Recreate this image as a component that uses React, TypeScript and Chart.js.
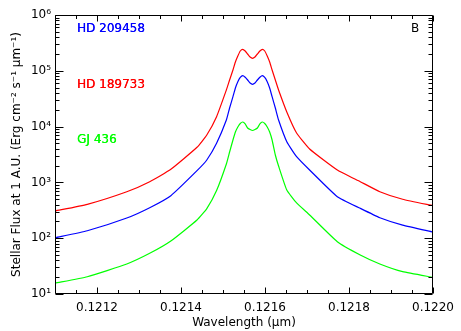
import React, { useEffect, useRef } from "react";
import { Chart, registerables } from "chart.js";

Chart.register(...registerables);

// Wavelength grid (micron)
const wavelengths = [
  0.1211, 0.1211769, 0.1212709, 0.1213255, 0.1213758, 0.1214381, 0.1214614,
  0.1214847, 0.121508, 0.1215157, 0.1215237, 0.1215295, 0.1215353, 0.1215411,
  0.121547, 0.1215528, 0.1215586, 0.1215645, 0.1215703, 0.1215761, 0.1215819,
  0.1215878, 0.1215936, 0.1215994, 0.1216053, 0.1216111, 0.1216169, 0.1216246,
  0.1216323, 0.1216519, 0.1216752, 0.1217062, 0.1217722, 0.1218268, 0.1218734,
  0.1219277, 0.122,
];

// Stellar flux at 1 AU (erg cm^-2 s^-1 um^-1)
const hd209458 = [
  102, 136, 230, 352, 578, 1622, 2520, 5020, 13130, 21540, 34360, 49200, 63800,
  75900, 81700, 76400, 68400, 60400, 57300, 60400, 68400, 76400, 81700, 75900,
  63800, 49200, 34360, 21540, 13130, 5360, 2890, 1667, 554, 343, 233, 172, 129,
];
const hd189733 = [
  307, 405, 681, 1030, 1718, 4256, 7070, 15040, 45300, 68400, 103300, 143900,
  184000, 226300, 242700, 226300, 200000, 176600, 167500, 176600, 200000, 226300,
  242700, 226300, 184000, 143900, 103300, 68400, 45300, 18290, 7680, 3970, 1667,
  1030, 681, 498, 382,
];
const gj436 = [
  15.6, 20.4, 34.5, 53.6, 89.1, 212, 340, 716, 2140, 3510, 5750, 8000, 9840,
  11380, 12090, 11170, 9440, 8870, 8510, 8870, 9440, 11170, 12090, 11380, 9840,
  8000, 5750, 3100, 1968, 731, 428, 261, 86.5, 50, 34.5, 25.1, 19.9,
];

const seriesNames = ["HD 209458", "HD 189733", "GJ 436"];
const seriesColors = ["#0000ff", "#ff0000", "#00ff00"];
const xTickLabels = [0.1212, 0.1214, 0.1216, 0.1218, 0.122];
const yDecades = [1, 2, 3, 4, 5, 6];
const supDigits: Record<string, string> = {
  "0": "\u2070", "1": "\u00b9", "2": "\u00b2", "3": "\u00b3", "4": "\u2074",
  "5": "\u2075", "6": "\u2076", "7": "\u2077", "8": "\u2078", "9": "\u2079",
};
const FONT = "'DejaVu Sans', sans-serif";

const framePlugin = {
  id: "frame",
  afterDraw(chart: any) {
    const { ctx, chartArea, scales } = chart;
    const { left, right, top, bottom } = chartArea;
    const xs = scales.x;
    const ys = scales.y;
    const L = Math.round(left) + 0.5;
    const R = Math.round(right) - 0.5;
    const T = Math.round(top) + 0.5;
    const B = Math.round(bottom) - 0.5;
    ctx.save();
    ctx.strokeStyle = "#000";
    ctx.lineWidth = 1;
    ctx.beginPath();
    ctx.rect(L, T, R - L, B - T);
    ctx.stroke();
    ctx.beginPath();
    // x ticks every 0.00005, major every 0.0002
    for (let idx = 2422; idx <= 2440; idx++) {
      const v = idx * 0.00005;
      const px = Math.round(xs.getPixelForValue(v)) + 0.5;
      const len = idx % 4 === 0 ? 6 : 3.5;
      ctx.moveTo(px, B);
      ctx.lineTo(px, B - len);
      ctx.moveTo(px, T);
      ctx.lineTo(px, T + len);
    }
    // y ticks
    for (let e = 1; e <= 6; e++) {
      for (let m = 1; m <= 9; m++) {
        const v = m * Math.pow(10, e);
        if (v > 1e6 + 1) break;
        const py = Math.round(ys.getPixelForValue(v)) + 0.5;
        const len = m === 1 ? 8 : 4;
        ctx.moveTo(L, py);
        ctx.lineTo(L + len, py);
        ctx.moveTo(R, py);
        ctx.lineTo(R - len, py);
      }
    }
    ctx.stroke();

    // annotations
    ctx.font = `12px ${FONT}`;
    ctx.textBaseline = "middle";
    ctx.textAlign = "left";
    const labelY = [28.5, 84.5, 140];
    [0, 1, 2].forEach((i) => {
      ctx.fillStyle = seriesColors[i];
      ctx.fillText(seriesNames[i], left + 22, labelY[i]);
      ctx.fillText(seriesNames[i], left + 22.25, labelY[i]);
    });
    ctx.fillStyle = "#000";
    ctx.fillText("B", right - 22, 28.5);
    ctx.restore();
  },
};

export default function App() {
  const ref = useRef<HTMLCanvasElement | null>(null);

  useEffect(() => {
    if (!ref.current) return;
    const mk = (vals: number[]) => wavelengths.map((w, i) => ({ x: w, y: vals[i] }));
    const chart = new Chart(ref.current, {
      type: "line",
      data: {
        datasets: [hd209458, hd189733, gj436].map((vals, i) => ({
          label: seriesNames[i],
          data: mk(vals),
          borderColor: seriesColors[i],
          borderWidth: 1.2,
          pointRadius: 0,
          fill: false,
          tension: 0.15,
        })),
      },
      options: {
        animation: false,
        responsive: false,
        events: [],
        layout: { padding: { top: 15, right: 20, left: 0, bottom: 0 } },
        plugins: { legend: { display: false }, tooltip: { enabled: false } },
        scales: {
          x: {
            type: "linear",
            min: 0.1211,
            max: 0.122,
            grid: { display: false, drawTicks: false },
            border: { display: false },
            afterBuildTicks: (s: any) => {
              s.ticks = xTickLabels.map((v) => ({ value: v }));
            },
            afterFit: (s: any) => {
              s.height = 37;
            },
            ticks: {
              padding: 7,
              color: "#000",
              maxRotation: 0,
              autoSkip: false,
              font: { family: FONT, size: 12 },
              callback: (v: any) => Number(v).toFixed(4),
            },
            title: {
              display: true,
              text: "Wavelength (\u03bcm)",
              color: "#000",
              font: { family: FONT, size: 12 },
              padding: { top: 0, bottom: 1 },
            },
          },
          y: {
            type: "logarithmic",
            min: 10,
            max: 1e6,
            grid: { display: false, drawTicks: false },
            border: { display: false },
            afterBuildTicks: (s: any) => {
              s.ticks = yDecades.map((e) => ({ value: Math.pow(10, e) }));
            },
            afterFit: (s: any) => {
              s.width = 55;
            },
            ticks: {
              padding: 4,
              color: "#000",
              autoSkip: false,
              font: { family: FONT, size: 12 },
              callback: (v: any) => {
                const e = Math.round(Math.log10(Number(v)));
                return "10" + String(e).split("").map((d) => supDigits[d]).join("");
              },
            },
            title: {
              display: true,
              text: "Stellar Flux at 1 A.U. (Erg cm\u207b\u00b2 s\u207b\u00b9 \u03bcm\u207b\u00b9)",
              color: "#000",
              font: { family: FONT, size: 12 },
              padding: { top: 10, bottom: 0 },
            },
          },
        },
      },
      plugins: [framePlugin],
    });
    return () => chart.destroy();
  }, []);

  return (
    <div style={{ position: "absolute", left: 0, top: 0, width: 461, height: 331, background: "#fff" }}>
      <canvas ref={ref} width={461} height={331} />
    </div>
  );
}
